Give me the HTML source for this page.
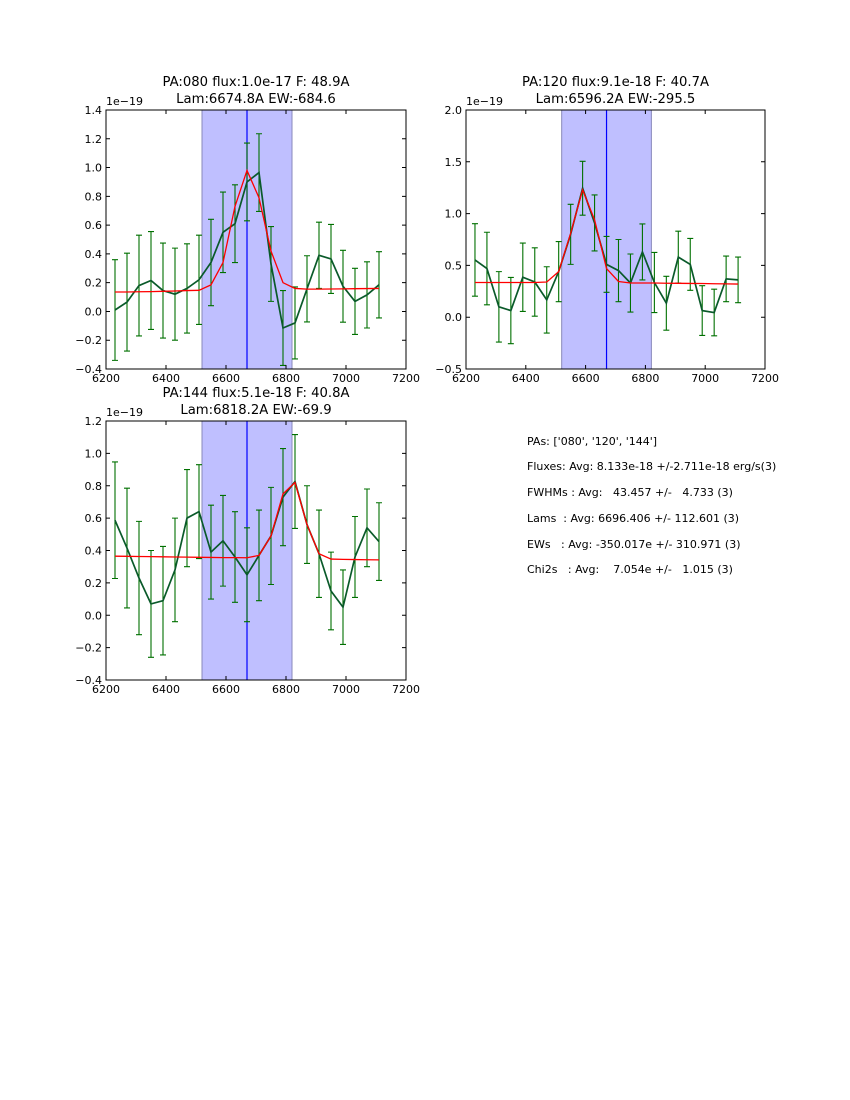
<!DOCTYPE html>
<html><head><meta charset="utf-8"><style>
body{margin:0;background:#fff;}
svg{display:block;font-family:"DejaVu Sans","Liberation Sans",sans-serif;}
</style></head><body>
<svg id="fig" width="850" height="1100" viewBox="0 0 850 1100">
<rect width="850" height="1100" fill="#fff"/>
<g font-size="11" fill="#000">
<text x="527" y="445">PAs: ['080', '120', '144']</text>
<text x="527" y="470">Fluxes: Avg: 8.133e-18 +/-2.711e-18 erg/s(3)</text>
<text x="527" y="496" xml:space="preserve">FWHMs : Avg:   43.457 +/-   4.733 (3)</text>
<text x="527" y="522" xml:space="preserve">Lams  : Avg: 6696.406 +/- 112.601 (3)</text>
<text x="527" y="548" xml:space="preserve">EWs   : Avg: -350.017e +/- 310.971 (3)</text>
<text x="527" y="573" xml:space="preserve">Chi2s   : Avg:    7.054e +/-   1.015 (3)</text>
</g>
</svg>
<script>
const lams = [6230,6270,6310,6350,6390,6430,6470,6510,6550,6590,6630,6670,6710,6750,6790,6830,6870,6910,6950,6990,7030,7070,7110];
const xTicks = [6200,6400,6600,6800,7000,7200];
const flux1 = [0.01,0.065,0.18,0.215,0.145,0.12,0.16,0.22,0.34,0.55,0.61,0.90,0.965,0.33,-0.115,-0.08,0.157,0.39,0.365,0.175,0.07,0.115,0.185];
const err1 = [0.35,0.34,0.35,0.34,0.33,0.32,0.31,0.31,0.30,0.28,0.27,0.27,0.27,0.26,0.26,0.25,0.23,0.23,0.24,0.25,0.23,0.23,0.23];
const fit1 = [0.135,0.135,0.137,0.138,0.14,0.142,0.145,0.147,0.185,0.34,0.73,0.98,0.79,0.42,0.20,0.16,0.155,0.155,0.156,0.157,0.158,0.159,0.16];
const yTicks1 = [-0.4,-0.2,0.0,0.2,0.4,0.6,0.8,1.0,1.2,1.4];
const flux2 = [0.553,0.47,0.10,0.064,0.386,0.34,0.167,0.44,0.80,1.245,0.91,0.51,0.45,0.33,0.63,0.335,0.135,0.58,0.51,0.064,0.045,0.37,0.36];
const err2 = [0.35,0.35,0.34,0.32,0.33,0.33,0.32,0.29,0.29,0.26,0.27,0.27,0.30,0.28,0.27,0.29,0.26,0.25,0.25,0.24,0.225,0.22,0.22];
const fit2 = [0.335,0.335,0.335,0.335,0.335,0.335,0.34,0.44,0.81,1.23,0.94,0.47,0.345,0.33,0.33,0.33,0.328,0.327,0.326,0.325,0.323,0.322,0.32];
const yTicks2 = [-0.5,0.0,0.5,1.0,1.5,2.0];
const flux3 = [0.587,0.415,0.23,0.07,0.09,0.28,0.60,0.64,0.39,0.46,0.36,0.25,0.37,0.49,0.73,0.826,0.56,0.38,0.15,0.05,0.36,0.54,0.455];
const err3 = [0.36,0.37,0.35,0.33,0.335,0.32,0.30,0.29,0.29,0.28,0.28,0.29,0.28,0.30,0.30,0.29,0.24,0.27,0.24,0.23,0.25,0.24,0.24];
const fit3 = [0.365,0.364,0.363,0.362,0.361,0.36,0.359,0.358,0.357,0.356,0.356,0.355,0.37,0.49,0.75,0.82,0.56,0.38,0.347,0.345,0.344,0.343,0.342];
const yTicks3 = [-0.4,-0.2,0.0,0.2,0.4,0.6,0.8,1.0,1.2];

const NS = "http://www.w3.org/2000/svg";
const svg = document.getElementById('fig');
function el(tag, attrs, parent){const e=document.createElementNS(NS,tag);for(const k in attrs)e.setAttribute(k,attrs[k]);(parent||svg).appendChild(e);return e;}

function panel(id, L, T, R, B, ymin, ymax, yTicks, flux, err, fit, t1, t2){
  const g = el('g',{});
  
  
  const xs = v => L + (v-6200)/(1000)*(R-L);
  const ys = v => B - (v-ymin)/(ymax-ymin)*(B-T);
  const span = el('rect',{x:xs(6520),y:T,width:xs(6820)-xs(6520),height:B-T,fill:'#bfbfff',stroke:'#8888bb','stroke-width':1},g);
  
  
  const vl = el('line',{x1:xs(6670),x2:xs(6670),y1:T,y2:B,stroke:'#0000ff','stroke-width':1.2},g);
  
  
  for(let i=0;i<lams.length;i++){
    const x=xs(lams[i]), y1=ys(flux[i]-err[i]), y2=ys(flux[i]+err[i]);
    const eb = el('path',{d:`M${x},${y1}V${y2}M${x-3},${y1}H${x+3}M${x-3},${y2}H${x+3}`,stroke:'#007000','stroke-width':1.1,fill:'none'},g);
    
    
  }
  const dl = el('polyline',{points:lams.map((l,i)=>xs(l)+','+ys(flux[i])).join(' '),fill:'none',stroke:'#0a5a2a','stroke-width':1.7},g);
  
  
  const fl = el('polyline',{points:lams.map((l,i)=>xs(l)+','+ys(fit[i])).join(' '),fill:'none',stroke:'#ff0000','stroke-width':1.3},g);
  
  
  const fr = el('rect',{x:L,y:T,width:R-L,height:B-T,fill:'none',stroke:'#000','stroke-width':1},g);
  
  
  xTicks.forEach(v=>{
    const x=xs(v);
    el('path',{d:`M${x},${B}v-4M${x},${T}v4`,stroke:'#000','stroke-width':1},g);
    const t=el('text',{x:x,y:B+13,'font-size':11,'text-anchor':'middle'},g);
    t.textContent=v;
    
    
  });
  yTicks.forEach(v=>{
    const y=ys(v);
    el('path',{d:`M${L},${y}h4M${R},${y}h-4`,stroke:'#000','stroke-width':1},g);
    const t=el('text',{x:L-4,y:y+4,'font-size':11,'text-anchor':'end'},g);
    t.textContent=v.toFixed(1).replace('-','\u2212');
    
    
  });
  const off=el('text',{x:L,y:T-5,'font-size':11},g);
  off.textContent='1e\u221219';
  
  
  const a=el('text',{x:(L+R)/2,y:T-24,'font-size':13.2,'text-anchor':'middle'},g);
  a.textContent=t1;
  
  
  const b=el('text',{x:(L+R)/2,y:T-7,'font-size':13.2,'text-anchor':'middle'},g);
  b.textContent=t2;
  
  
}
panel('080',106,110,406,369,-0.4,1.4,yTicks1,flux1,err1,fit1,'PA:080 flux:1.0e-17 F: 48.9A','Lam:6674.8A EW:-684.6');
panel('120',466,110,765,369,-0.5,2.0,yTicks2,flux2,err2,fit2,'PA:120 flux:9.1e-18 F: 40.7A','Lam:6596.2A EW:-295.5');
panel('144',106,421,406,680,-0.4,1.2,yTicks3,flux3,err3,fit3,'PA:144 flux:5.1e-18 F: 40.8A','Lam:6818.2A EW:-69.9');
</script>
</body></html>
